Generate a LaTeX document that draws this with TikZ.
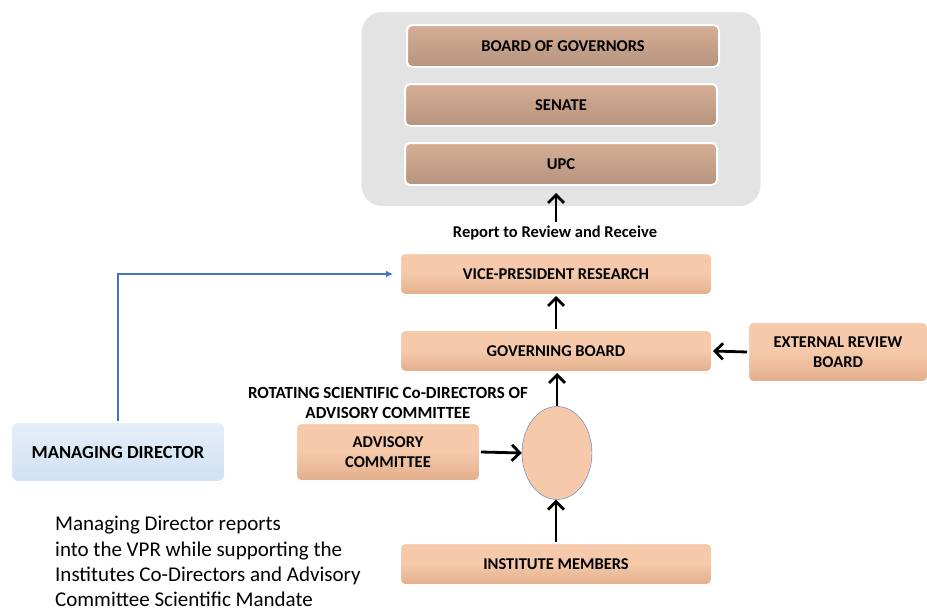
\documentclass[tikz,border=0pt]{standalone}
\usepackage{fontspec}
\setmainfont{Carlito}
\usetikzlibrary{arrows.meta,positioning,shadows,shapes.geometric}

\definecolor{peach}{HTML}{F5C9AA}
\definecolor{peachdark}{HTML}{E2AE8C}
\definecolor{govpeach}{HTML}{D6AE95}
\definecolor{mdblue}{HTML}{D0E1F3}
\definecolor{linkblue}{HTML}{4472C4}

\begin{document}
\begin{tikzpicture}[
  x=1pt, y=-1pt, >=Latex,
  font=\fontsize{16}{18}\selectfont,
  unit/.style={draw=white, line width=2pt, rounded corners=5pt, top color=peach, bottom color=peachdark, middle color=peach,
    drop shadow={shadow xshift=0.5pt, shadow yshift=-1.2pt, opacity=.35}, align=center,
    minimum width=312pt, minimum height=42pt, font=\fontsize{16.5}{20.5}\selectfont\bfseries},
  side/.style={unit, minimum width=184pt, minimum height=58pt},
  gov/.style={unit, top color=govpeach, middle color=govpeach, bottom color=govpeach!85!black},
  md/.style={draw=white, line width=2pt, rounded corners=7pt, top color=mdblue!55, bottom color=mdblue,
    drop shadow={shadow xshift=0.5pt, shadow yshift=-1.2pt, opacity=.3}, align=center,
    minimum width=214pt, minimum height=60pt, font=\fontsize{18.5}{22}\selectfont\bfseries},
  up/.style={line width=2.8pt, -{Straight Barb[length=8pt,width=16pt,line width=2.8pt]}},
]
\useasboundingbox (0,0) rectangle (927,613);
% university bodies (top grey panel)
\node[draw=white, line width=3pt, rounded corners=22pt, fill=gray!22, minimum width=402pt, minimum height=197pt,
  drop shadow={shadow xshift=0pt, shadow yshift=-1pt, opacity=.2}] (panel) at (561,109) {};
\node[gov] (bog) at (563,46) {BOARD OF GOVERNORS};
\node[gov] (senate) at (561,105) {SENATE};
\node[gov] (upc) at (561,164) {UPC};
% institute chain
\node[unit] (vpr) at (556,274) {VICE-PRESIDENT RESEARCH};
\node[unit] (gb) at (556,351) {GOVERNING BOARD};
\node[side, minimum width=180pt, minimum height=60pt] (erb) at (838,352) {EXTERNAL REVIEW\\BOARD};
\node[ellipse, draw=linkblue!70!gray, thin, fill=peach, minimum width=70pt, minimum height=93pt] (codir) at (557,453) {};
\node[side] (adv) at (388,452) {ADVISORY\\COMMITTEE};
\node[unit] (mem) at (556,564) {INSTITUTE MEMBERS};
\node[font=\fontsize{17}{19.5}\selectfont\bfseries, align=center] (rot) at (388,403) {ROTATING SCIENTIFIC Co-DIRECTORS OF\\ADVISORY COMMITTEE};
% managing director
\node[md] (mdir) at (118,452) {MANAGING DIRECTOR};
\node[align=left, anchor=north west, inner sep=2pt, font=\fontsize{21}{25.4}\selectfont] (note) at (53,514)
  {Managing Director reports\\into the VPR while supporting the\\Institutes Co-Directors and Advisory\\Committee Scientific Mandate};
% arrows
\coordinate (rep) at (556,222);
\draw[up] (rep) -- (rep |- 0,193);
\node[font=\fontsize{16.5}{18}\selectfont\bfseries] (replab) at (555,233) {Report to Review and Receive};
\draw[up] (gb.north) -- (vpr.south);
\draw[up] (codir.north) -- (codir.north |- gb.south);
\draw[up] (erb.west) -- (gb.east);
\draw[up] (adv.east) -- (codir.west);
\draw[up] (mem.north) -- (mem.north |- codir.south);
\draw[linkblue, line width=1.5pt, -{Latex[length=7pt,width=7pt]}] (mdir.north) |- ([xshift=-6pt]vpr.west);
\end{tikzpicture}
\end{document}
